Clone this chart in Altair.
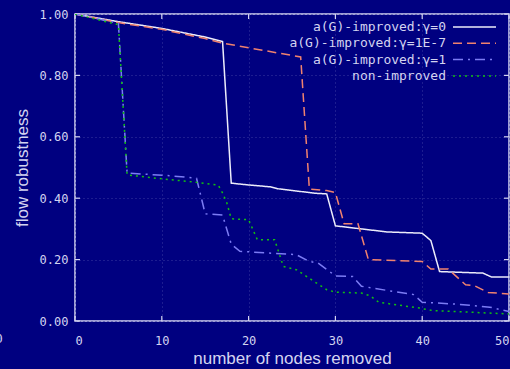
import altair as alt
import pandas as pd

# Flow robustness as nodes are removed, one series per strategy
x_g0 = [0, 5, 10, 15, 17, 18, 19.7, 22.5, 23.3, 27.7, 29, 30, 33, 36, 40, 41, 42, 47, 48, 50]
y_g0 = [1.0, 0.975, 0.953, 0.925, 0.91, 0.449, 0.444, 0.437, 0.431, 0.416, 0.414, 0.31, 0.30, 0.29, 0.286, 0.262, 0.161, 0.156, 0.143, 0.143]

x_g7 = [0, 5, 10, 15, 17, 20, 26, 27, 29, 30, 31, 32.6, 33.8, 40, 41, 43, 45, 46, 47.6, 50]
y_g7 = [1.0, 0.972, 0.95, 0.92, 0.905, 0.89, 0.86, 0.43, 0.425, 0.418, 0.317, 0.317, 0.2, 0.194, 0.169, 0.169, 0.118, 0.115, 0.093, 0.088]

x_g1 = [0, 5, 6, 11, 14, 15, 17, 18, 19, 25.5, 27, 28, 30, 32, 33, 34.4, 36.7, 39, 40, 44, 47.8, 50]
y_g1 = [1.0, 0.97, 0.482, 0.473, 0.465, 0.349, 0.345, 0.25, 0.227, 0.216, 0.194, 0.189, 0.147, 0.145, 0.113, 0.107, 0.096, 0.086, 0.061, 0.055, 0.045, 0.031]

x_non = [0, 5, 6, 9.4, 13.2, 16.5, 17, 17.5, 18, 20, 21, 23, 24, 25.5, 29, 30, 33, 34, 35, 39.7, 41.2, 50]
y_non = [1.0, 0.965, 0.476, 0.465, 0.454, 0.443, 0.417, 0.384, 0.333, 0.33, 0.265, 0.265, 0.178, 0.167, 0.102, 0.094, 0.091, 0.082, 0.061, 0.042, 0.034, 0.023]

series_names = ["a(G)-improved:γ=0", "a(G)-improved:γ=1E-7", "a(G)-improved:γ=1", "non-improved"]
series_x = [x_g0, x_g7, x_g1, x_non]
series_y = [y_g0, y_g7, y_g1, y_non]
series_colors = ["#ececfa", "#f0826e", "#7c7cf4", "#10c010"]
series_dash = [[1, 0], [9, 5], [10, 5, 2, 5], [2, 4]]

x_ticks = [0, 10, 20, 30, 40, 50]
y_ticks = [0.0, 0.2, 0.4, 0.6, 0.8, 1.0]

BG = "#000080"
FG = "#d4d4f0"
GRID = "#3a3aa0"
W, H = 434, 307

xs = alt.Scale(domain=[0, 50], nice=False, zero=False)
ys = alt.Scale(domain=[0, 1], nice=False, zero=False)
px_x = 50 / W  # data units per pixel
px_y = 1 / H

x_axis = alt.Axis(values=x_ticks, format="d", grid=True, gridColor=GRID, gridDash=[1, 3],
                  gridWidth=1, ticks=False, domain=False, labelFont="DejaVu Sans Mono",
                  labelFontSize=12, labelColor=FG, labelPadding=14,
                  title="number of nodes removed", titleFont="Liberation Sans",
                  titleFontSize=17, titleFontWeight="normal", titleColor=FG, titlePadding=4)
y_axis = alt.Axis(values=y_ticks, format=".2f", grid=True, gridColor=GRID, gridDash=[1, 3],
                  gridWidth=1, ticks=False, domain=False, labelFont="DejaVu Sans Mono",
                  labelFontSize=12, labelColor=FG, labelPadding=7,
                  title="flow robustness", titleFont="Liberation Sans",
                  titleFontSize=17, titleFontWeight="normal", titleColor=FG, titlePadding=8)

layers = []

# axes carrier (invisible points just to draw axes/grid)
base = pd.DataFrame({"x": [0, 50], "y": [0, 1]})
layers.append(alt.Chart(base).mark_point(opacity=0).encode(
    x=alt.X("x:Q", scale=xs, axis=x_axis), y=alt.Y("y:Q", scale=ys, axis=y_axis)))

# inward tick marks on all four sides
tick_len_x = 5 * px_y
tick_len_y = 5 * px_x
tk = []
for v in x_ticks:
    tk.append({"x": v, "x2": v, "y": 0, "y2": tick_len_x})
    tk.append({"x": v, "x2": v, "y": 1, "y2": 1 - tick_len_x})
for v in y_ticks:
    tk.append({"x": 0, "x2": tick_len_y, "y": v, "y2": v})
    tk.append({"x": 50, "x2": 50 - tick_len_y, "y": v, "y2": v})
layers.append(alt.Chart(pd.DataFrame(tk)).mark_rule(color=FG, strokeWidth=1.2).encode(
    x=alt.X("x:Q", scale=xs), x2="x2:Q", y=alt.Y("y:Q", scale=ys), y2="y2:Q"))

# data lines
for name, xv, yv, col, dash in zip(series_names, series_x, series_y, series_colors, series_dash):
    df = pd.DataFrame({"x": xv, "y": yv, "s": name})
    layers.append(alt.Chart(df).mark_line(color=col, strokeDash=dash, strokeWidth=1.5,
                                          clip=True).encode(
        x=alt.X("x:Q", scale=xs), y=alt.Y("y:Q", scale=ys), order="x:Q"))

# key: label right-aligned, sample line to its right
key_right = (446 - 75) * px_x
key_l0 = (453 - 75) * px_x
key_l1 = (496 - 75) * px_x
for i, (name, col, dash) in enumerate(zip(series_names, series_colors, series_dash)):
    ky = 1 - (13 + 16.3 * i) * px_y
    t = pd.DataFrame({"x": [key_right], "y": [ky], "t": [name]})
    layers.append(alt.Chart(t).mark_text(align="right", baseline="middle", color=FG,
                                         font="DejaVu Sans Mono", fontSize=13).encode(
        x=alt.X("x:Q", scale=xs), y=alt.Y("y:Q", scale=ys), text="t:N"))
    l = pd.DataFrame({"x": [key_l0], "x2": [key_l1], "y": [ky]})
    layers.append(alt.Chart(l).mark_rule(color=col, strokeDash=dash, strokeWidth=1.5).encode(
        x=alt.X("x:Q", scale=xs), x2="x2:Q", y=alt.Y("y:Q", scale=ys)))

# stray tick label left of the frame, partly outside the page
stray = pd.DataFrame({"x": [-76 * px_x], "y": [-18 * px_y], "t": ["0"]})
layers.append(alt.Chart(stray).mark_text(align="center", baseline="middle", color=FG,
                                         font="DejaVu Sans Mono", fontSize=12).encode(
    x=alt.X("x:Q", scale=xs), y=alt.Y("y:Q", scale=ys), text="t:N"))

chart = alt.layer(*layers).properties(
    width=W, height=H, background=BG,
    padding={"left": 75, "top": 14, "right": 1, "bottom": 48},
    autosize=alt.AutoSizeParams(type="none"),
).configure_view(stroke=FG, strokeWidth=1.5, fill=BG)

chart.save("out.html", embed_options={"renderer": "svg", "actions": False})
